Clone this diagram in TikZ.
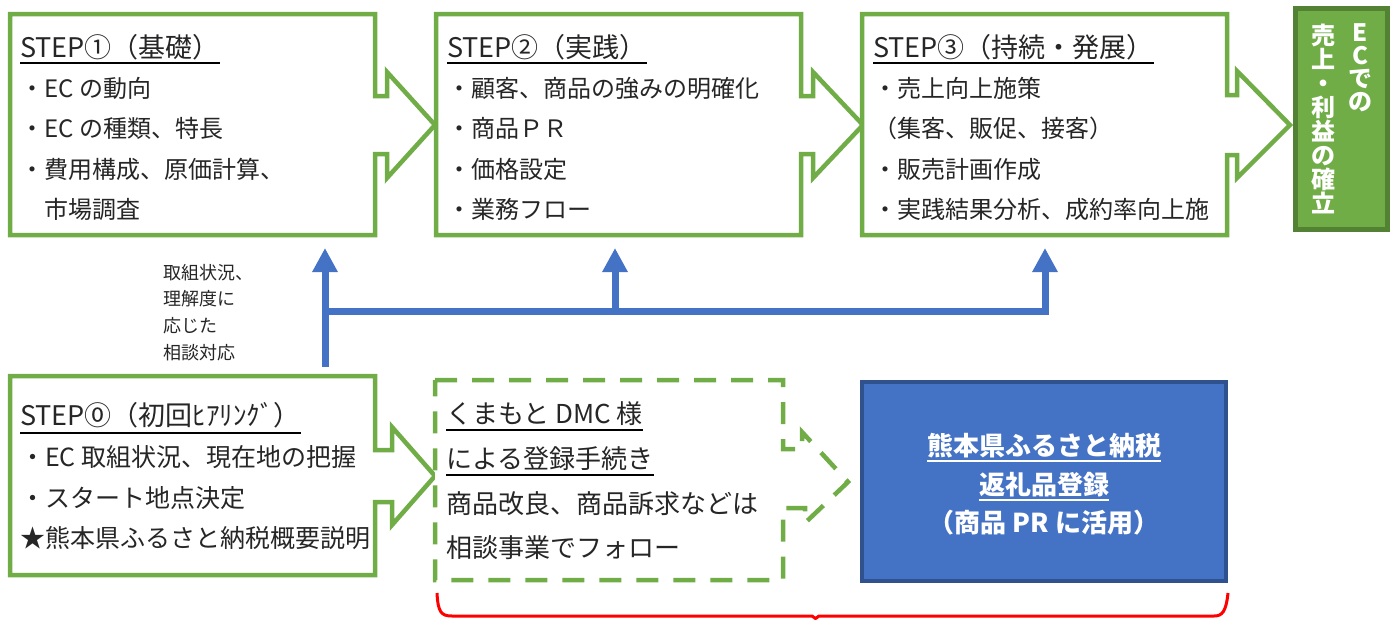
\documentclass[tikz,border=0pt]{standalone}
\usepackage{fontspec}
\setmainfont{Noto Sans CJK JP}
\usetikzlibrary{arrows.meta}
\definecolor{gr}{HTML}{70AD47}
\definecolor{grd}{HTML}{548235}
\definecolor{bl}{HTML}{4472C4}
\definecolor{bld}{HTML}{2F528F}
\definecolor{txt}{HTML}{262626}
\begin{document}
\begin{tikzpicture}[x=1pt,y=-1pt,
  tnode/.style={anchor=base west, inner sep=0pt, text=txt},
  ttl/.style={tnode, font=\fontsize{27}{27}\selectfont},
  bod/.style={tnode, font=\fontsize{24}{24}\selectfont},
  bodl/.style={tnode, font=\fontsize{25}{25}\selectfont},
  bodd/.style={tnode, font=\fontsize{26}{26}\selectfont},
  lbl/.style={tnode, font=\fontsize{18}{18}\selectfont},
  wtxt/.style={anchor=base, inner sep=0pt, text=white, font=\fontsize{26}{26}\selectfont\bfseries},
  vtxt/.style={anchor=center, inner sep=0pt, text=white, align=center},
  gline/.style={draw=gr, line width=4.5pt, line join=miter, fill=white},
  dline/.style={draw=gr, line width=4.5pt, line join=miter, dash pattern=on 22pt off 15pt, fill=white},
  uline/.style={draw=black, line width=1.6pt},
  bline/.style={draw=bl, line width=7pt},
  btip/.style={-{Triangle[width=24pt,length=24pt]}}
]
\useasboundingbox (0,0) rectangle (1397,619);

% STEP boxes (callout arrows)
\draw[gline] (10,14) -- (375,14) -- (375,96) -- (387,96) -- (387,72) -- (435,125) -- (387,178) -- (387,154) -- (375,154) -- (375,235) -- (10,235) -- cycle;
\draw[gline] (436,14) -- (801,14) -- (801,96) -- (813,96) -- (813,72) -- (863,125) -- (813,178) -- (813,154) -- (801,154) -- (801,235) -- (436,235) -- cycle;
\draw[gline] (862,14) -- (1227,14) -- (1227,95) -- (1237,95) -- (1237,71) -- (1290,125) -- (1237,178) -- (1237,155) -- (1227,155) -- (1227,235) -- (862,235) -- cycle;
\draw[gline] (10,376) -- (375,376) -- (375,450) -- (392,450) -- (392,427) -- (435,476) -- (392,525) -- (392,502) -- (375,502) -- (375,575) -- (10,575) -- cycle;
\draw[dline] (435,380) -- (783,380) -- (783,449) -- (802,449) -- (802,432) -- (848,482) -- (805,523) -- (805,508) -- (783,508) -- (783,580) -- (435,580) -- cycle;

% blue and green boxes
\draw[draw=bld, fill=bl, line width=4pt] (862,382) rectangle (1226,581);
\draw[draw=grd, fill=gr, line width=5pt] (1295.5,8.5) rectangle (1387.5,229.5);

% STEP1
\node[ttl] (t1) at (20,57) {STEP①（基礎）};
\draw[uline] ([yshift=-6pt]t1.base west) -- ([yshift=-6pt]t1.base east);
\node[bod] (t1a) at (20,97) {・EC の動向};
\node[bod] (t1b) at (20,137) {・EC の種類、特長};
\node[bod] (t1c) at (20,178) {・費用構成、原価計算、};
\node[bod] (t1d) at (44,218) {市場調査};

% STEP2
\node[ttl] (t2) at (447,57) {STEP②（実践）};
\draw[uline] ([yshift=-6pt]t2.base west) -- ([yshift=-6pt]t2.base east);
\node[bod] (t2a) at (447,97) {・顧客、商品の強みの明確化};
\node[bod] (t2b) at (447,137) {・商品ＰＲ};
\node[bod] (t2c) at (447,178) {・価格設定};
\node[bod] (t2d) at (447,218) {・業務フロー};

% STEP3
\node[ttl] (t3) at (873,57) {STEP③（持続・発展）};
\draw[uline] ([yshift=-6pt]t3.base west) -- ([yshift=-6pt]t3.base east);
\node[bod] (t3a) at (873,97) {・売上向上施策};
\node[bod] (t3b) at (873,137) {（集客、販促、接客）};
\node[bod] (t3c) at (873,178) {・販売計画作成};
\node[bod] (t3d) at (873,218) {・実践結果分析、成約率向上施};

% STEP0
\node[ttl] (t0) at (20,425) {STEP⓪（初回ﾋｱﾘﾝｸﾞ）};
\draw[uline] ([yshift=-8pt]t0.base west) -- ([yshift=-8pt]t0.base east);
\node[bodl] (t0a) at (20,466) {・EC 取組状況、現在地の把握};
\node[bodl] (t0b) at (20,507) {・スタート地点決定};
\node[bodl] (t0c) at (20,547) {★熊本県ふるさと納税概要説明};

% dashed box text
\node[bodd] (d1) at (446,423) {くまもと DMC 様};
\draw[uline] ([yshift=-7pt]d1.base west) -- ([yshift=-7pt]d1.base east);
\node[bodd] (d2) at (446,468) {による登録手続き};
\draw[uline] ([yshift=-7pt]d2.base west) -- ([yshift=-7pt]d2.base east);
\node[bodd] (d3) at (446,513) {商品改良、商品訴求などは};
\node[bodd] (d4) at (446,557) {相談事業でフォロー};

% blue box text
\node[wtxt] (w1) at (1044,455) {熊本県ふるさと納税};
\draw[draw=white, line width=1.6pt] ([yshift=-6pt]w1.base west) -- ([yshift=-6pt]w1.base east);
\node[wtxt] (w2) at (1044,494) {返礼品登録};
\draw[draw=white, line width=1.6pt] ([yshift=-6pt]w2.base west) -- ([yshift=-6pt]w2.base east);
\node[wtxt] (w3) at (1044,532) {（商品 PR に活用）};

% green box vertical text
\node[vtxt, font=\fontsize{24}{24}\selectfont\bfseries] (g1) at (1323,119) {売\\上\\・\\利\\益\\の\\確\\立};
\node[vtxt, font=\fontsize{24}{23}\selectfont\bfseries] (g2) at (1360,68) {E\\C\\で\\の};

% consult label
\node[lbl] (l1) at (163,279) {取組状況、};
\node[lbl] (l2) at (163,305) {理解度に};
\node[lbl] (l3) at (163,332) {応じた};
\node[lbl] (l4) at (163,359) {相談対応};

% blue arrows
\coordinate (b0) at (325,367);
\coordinate (a1) at (325,248);
\coordinate (bj) at (325,311);
\coordinate (j2) at (615,311);
\coordinate (a2) at (615,248);
\coordinate (j3) at (1045,311);
\coordinate (a3) at (1045,248);
\draw[bline, btip] (b0) -- (a1);
\draw[bline, btip] (bj) -- (j3) -- (a3);
\draw[bline, btip] (j2) -- (a2);

% red bracket
\draw[red, line width=3pt] (437,593) .. controls (438,612) and (441,616) .. (452,616) -- (812,616) -- (815.5,618.5) -- (819,616) -- (1214,616) .. controls (1222,616) and (1226,612) .. (1228,593);
\end{tikzpicture}
\end{document}
